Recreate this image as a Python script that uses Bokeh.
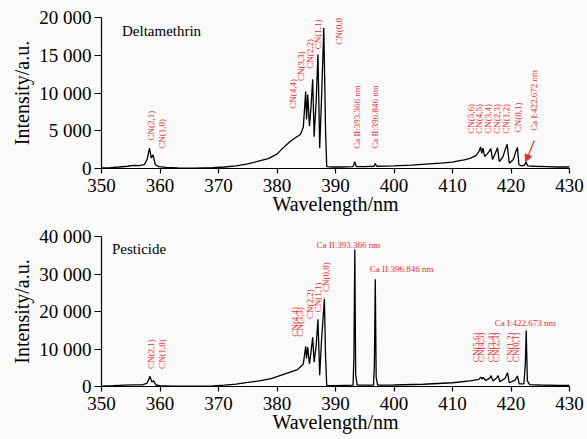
import math
from bokeh.plotting import figure
from bokeh.models import Range1d, FixedTicker, Arrow, NormalHead
from bokeh.layouts import column
from bokeh.embed import file_html
from bokeh.resources import INLINE
from bokeh.core.properties import value

FONT = "Liberation Serif"
RED = "#e8302f"
BG = "#fafafa"

# ---------------- data ----------------
x_ticks = [350, 360, 370, 380, 390, 400, 410, 420, 430]

top_y_ticks = [0, 5000, 10000, 15000, 20000]
top_y_labels = ["0", "5 000", "10 000", "15 000", "20 000"]
bot_y_ticks = [0, 10000, 20000, 30000, 40000]
bot_y_labels = ["0", "10 000", "20 000", "30 000", "40 000"]

# Deltamethrin spectrum (wavelength nm, intensity a.u.)
delta_wl = [350.0, 351.5, 353.0, 354.5, 355.5, 356.5, 357.3, 357.8, 358.2, 358.5,
            358.8, 359.2, 359.8, 361.0, 363.0, 366.0, 369.0, 371.0, 373.0, 375.0,
            377.0, 378.5, 380.0, 381.0, 382.0, 383.0, 384.0, 384.5, 384.9, 385.05,
            385.25, 385.55, 385.8, 386.1, 386.35, 386.7, 387.0, 387.3, 387.6, 388.0,
            388.3, 388.5, 389.5, 391.0, 393.0, 393.3, 393.55, 395.0, 396.6, 396.8,
            397.05, 400.0, 403.0, 406.0, 408.0, 410.0, 411.0, 412.0, 413.0, 414.0,
            414.55, 414.8, 415.0, 415.2, 415.5, 415.9, 416.3, 416.55, 416.85, 417.3,
            417.7, 418.0, 418.6, 419.05, 419.35, 419.7, 420.4, 420.85, 421.1, 421.35,
            421.8, 422.3, 422.55, 422.85, 424.0, 426.0, 428.0, 430.0]
delta_int = [80, 120, 200, 300, 420, 380, 500, 1200, 2700, 1400,
             1800, 500, 250, 150, 80, 60, 100, 200, 350, 600,
             1000, 1300, 1900, 2700, 3400, 4000, 4500, 5500, 10200, 6500,
             9800, 5600, 8000, 11800, 4200, 9000, 15100, 2700, 9000, 18600,
             5000, 250, 200, 200, 250, 900, 250, 250, 300, 650,
             300, 350, 450, 600, 700, 850, 1000, 1150, 1350, 1700,
             2300, 2850, 2000, 2700, 1600, 1900, 2300, 2650, 1200, 2000,
             2750, 900, 1500, 2600, 3200, 700, 1200, 2300, 2800, 500,
             350, 450, 850, 350, 300, 250, 200, 200]

# Pesticide spectrum
pest_wl = [350.0, 352.0, 354.0, 355.5, 357.0, 357.8, 358.3, 358.6, 358.9, 359.3,
           360.0, 362.0, 366.0, 369.0, 371.0, 373.0, 375.0, 377.0, 379.0, 380.5,
           382.0, 383.5, 384.5, 384.9, 385.05, 385.25, 385.55, 385.8, 386.1, 386.35,
           386.7, 387.0, 387.3, 387.6, 388.1, 388.3, 388.5, 390.0, 393.0, 393.15,
           393.3, 393.45, 393.7, 396.5, 396.65, 396.8, 396.95, 397.2, 400.0, 405.0,
           410.0, 413.0, 414.5, 414.85, 415.05, 415.25, 415.7, 416.4, 416.6, 416.9,
           417.5, 417.8, 418.1, 419.0, 419.4, 419.7, 420.7, 421.1, 421.4, 422.2,
           422.45, 422.6, 422.8, 423.2, 425.0, 428.0, 430.0]
pest_int = [100, 200, 350, 450, 450, 900, 2700, 1200, 1500, 400,
            200, 100, 80, 150, 350, 650, 1100, 1500, 2100, 2900,
            3700, 4500, 6000, 10700, 7500, 10500, 6000, 9000, 13100, 6500,
            11000, 17900, 3000, 12000, 23400, 8000, 300, 250, 350, 8000,
            36500, 3000, 350, 350, 6000, 28600, 2500, 350, 400, 600,
            1000, 1500, 1900, 2500, 2000, 2400, 1600, 2300, 2900, 1500,
            2200, 2900, 1300, 2200, 3700, 1000, 1700, 2800, 700, 700,
            6000, 14900, 1500, 500, 400, 300, 300]

# Annotations, top panel (rotated, text starts at given point)
top_lab_text = ["CN(2,1)", "CN(1,0)", "CN(4,4)", "CN(3,3)", "CN(2,2)", "CN(1,1)", "CN(0,0)",
                "Ca II:393.366 nm", "Ca II:396.846 nm",
                "CN(5,6)", "CN(4,5)", "CN(3,4)", "CN(2,3)", "CN(1,2)", "CN(0,1)",
                "Ca I:422.672 nm"]
top_lab_x = [358.4, 360.3, 382.8, 384.1, 385.7, 387.0, 390.6,
             393.6, 396.7,
             413.2, 414.6, 416.0, 417.6, 419.2, 421.2,
             424.0]
top_lab_y = [3700, 2600, 7900, 11600, 13200, 15800, 16400,
             2600, 2600,
             4600, 4600, 4600, 4600, 4600, 4800,
             5000]

# Annotations, bottom panel (rotated)
bot_lab_text = ["CN(2,1)", "CN(1,0)", "CN(4,4)", "CN(3,3)", "CN(2,2)", "CN(1,1)", "CN(0,0)",
                "CN(5,6)", "CN(4,5)", "CN(3,4)", "CN(2,3)", "CN(1,2)", "CN(0,1)"]
bot_lab_x = [358.4, 360.4, 383.0, 384.0, 385.6, 387.0, 388.3,
             414.0, 414.9, 416.5, 417.5, 419.8, 420.8]
bot_lab_y = [4700, 4700, 13300, 13300, 18000, 19800, 25200,
             6500, 6500, 6500, 6500, 6500, 6500]

# Bottom panel horizontal labels (centered)
bot_h_text = ["Ca II:393.366 nm", "Ca II:396.846 nm", "Ca I:422.673 nm"]
bot_h_x = [392.2, 401.3, 422.4]
bot_h_y = [37800, 31400, 17000]


def make_fig(height, border_top, border_bottom, ymax, yticks, ylabels, wl, inten,
             title, title_x, title_y):
    p = figure(width=587, height=height, output_backend="svg", toolbar_location=None,
               x_range=Range1d(350, 430), y_range=Range1d(0, ymax),
               min_border_left=101, min_border_right=18, min_border_top=border_top,
               min_border_bottom=border_bottom)
    p.background_fill_color = BG
    p.border_fill_color = BG
    p.outline_line_color = None
    p.grid.visible = False
    p.line(wl, inten, color="black", line_width=1.3)

    p.xaxis.ticker = FixedTicker(ticks=x_ticks)
    p.yaxis.ticker = FixedTicker(ticks=yticks)
    p.yaxis.major_label_overrides = {t: l for t, l in zip(yticks, ylabels)}
    for ax in (p.xaxis, p.yaxis):
        ax.axis_line_color = "black"
        ax.axis_line_width = 1.2
        ax.major_tick_line_color = "black"
        ax.major_tick_line_width = 1.2
        ax.major_tick_in = 0
        ax.minor_tick_line_color = None
        ax.major_label_text_font = FONT
        ax.major_label_text_font_size = "19px"
        ax.major_label_text_color = "black"
        ax.axis_label_text_font = FONT
        ax.axis_label_text_font_size = "20px"
        ax.axis_label_text_font_style = "normal"
        ax.axis_label_text_color = "black"
    p.xaxis.major_tick_out = 5
    p.yaxis.major_tick_out = 7
    p.xaxis.axis_label = "Wavelength/nm"
    p.yaxis.axis_label = "Intensity/a.u."
    p.xaxis.major_label_standoff = 5
    p.xaxis.axis_label_standoff = -2
    p.yaxis.major_label_standoff = 3
    p.yaxis.axis_label_standoff = 3

    p.text(x=[title_x], y=[title_y], text=[title],
           text_font=value(FONT), text_font_size="15px", text_color="black",
           text_baseline="middle", text_align="left")
    return p


p1 = make_fig(219, 17, 51, 20000, top_y_ticks, top_y_labels, delta_wl, delta_int,
              "Deltamethrin", 353.5, 18200)
p1.text(x=top_lab_x, y=top_lab_y, text=top_lab_text, angle=math.pi / 2,
        text_font=value(FONT), text_font_size="9px", text_color=RED,
        text_align="left", text_baseline="middle")
p1.add_layout(Arrow(end=NormalHead(size=7, fill_color=RED, line_color=RED),
                    x_start=424.0, y_start=3700, x_end=422.5, y_end=900,
                    line_color=RED, line_width=1.2))

p2 = make_fig(220, 17, 53, 40000, bot_y_ticks, bot_y_labels, pest_wl, pest_int,
              "Pesticide", 351.8, 36700)
p2.text(x=bot_lab_x, y=bot_lab_y, text=bot_lab_text, angle=math.pi / 2,
        text_font=value(FONT), text_font_size="9px", text_color=RED,
        text_align="left", text_baseline="middle")
p2.text(x=bot_h_x, y=bot_h_y, text=bot_h_text,
        text_font=value(FONT), text_font_size="9px", text_color=RED,
        text_align="center", text_baseline="middle")

layout = column(p1, p2)
open("out.html", "w").write(file_html(layout, INLINE))
